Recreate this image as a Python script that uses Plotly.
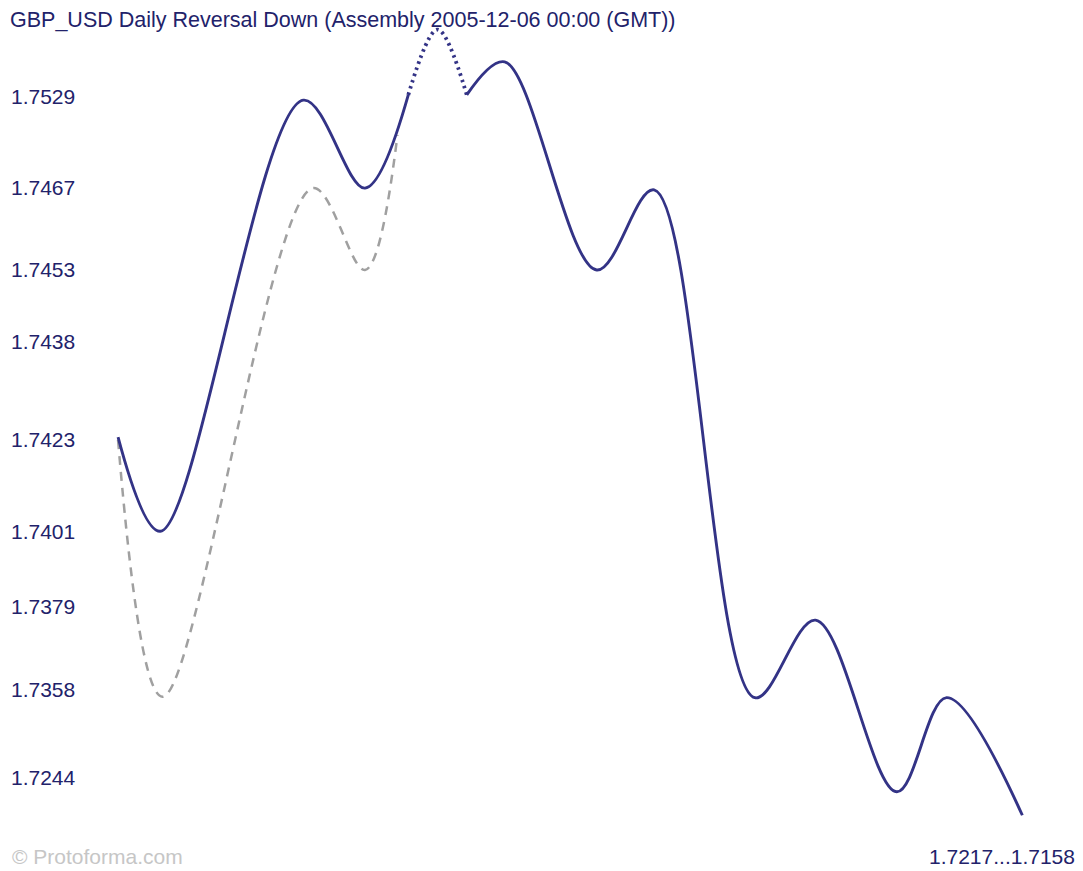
import plotly.graph_objects as go

# Chart-scale units: x = time position (0-100 of chart width), y = level (0-100 of chart height)
solid1_x = [10.9, 14.8, 28.0, 33.7, 37.7]
solid1_y = [49.8, 39.0, 88.5, 78.4, 89.1]

dotted_x = [37.7, 40.4, 43.1]
dotted_y = [89.1, 96.6, 89.1]

solid2_x = [43.1, 46.6, 55.1, 60.4, 69.7, 75.3, 82.8, 87.4, 94.4]
solid2_y = [89.1, 92.9, 69.0, 78.2, 19.9, 28.8, 9.1, 19.9, 6.4]

dashed_x = [10.9, 15.0, 28.9, 33.7, 36.7]
dashed_y = [49.5, 20.0, 78.4, 69.0, 84.5]

tick_levels = [88.9, 78.4, 69.0, 60.8, 49.5, 39.0, 30.4, 20.8, 10.7]
tick_labels = ["1.7529", "1.7467", "1.7453", "1.7438", "1.7423",
               "1.7401", "1.7379", "1.7358", "1.7244"]

title_text = "GBP_USD Daily Reversal Down (Assembly 2005-12-06 00:00 (GMT))"
range_text = "1.7217...1.7158"
credit_text = "© Protoforma.com"

NAVY = "#333386"
TEXT = "#22226a"
FONT = "Liberation Sans, Arial, sans-serif"

fig = go.Figure()
fig.add_trace(go.Scatter(x=dashed_x, y=dashed_y, mode="lines",
                         line=dict(color="#a0a0a0", width=2.5, dash="9px,7px",
                                   shape="spline", smoothing=1.0),
                         hoverinfo="skip", showlegend=False))
fig.add_trace(go.Scatter(x=solid1_x, y=solid1_y, mode="lines",
                         line=dict(color=NAVY, width=2.9, shape="spline", smoothing=1.0),
                         hoverinfo="skip", showlegend=False))
fig.add_trace(go.Scatter(x=dotted_x, y=dotted_y, mode="lines",
                         line=dict(color=NAVY, width=3.8, dash="2.5px,4px",
                                   shape="spline", smoothing=1.0),
                         hoverinfo="skip", showlegend=False))
fig.add_trace(go.Scatter(x=solid2_x, y=solid2_y, mode="lines",
                         line=dict(color=NAVY, width=2.9, shape="spline", smoothing=1.0),
                         hoverinfo="skip", showlegend=False))

fig.update_layout(
    width=1083, height=871,
    margin=dict(l=0, r=0, t=0, b=0),
    paper_bgcolor="white", plot_bgcolor="white",
    font=dict(family=FONT, color=TEXT, size=21),
    title=dict(text=title_text, xref="container", yref="container",
               x=10 / 1083, xanchor="left", y=1 - 19 / 871, yanchor="middle",
               font=dict(family=FONT, size=21.5, color=TEXT)),
    xaxis=dict(range=[0, 100], visible=False, fixedrange=True),
    yaxis=dict(range=[0, 100], showgrid=False, zeroline=False, showline=False,
               tickmode="array", tickvals=tick_levels, ticktext=tick_labels,
               ticks="", ticklabelposition="inside", ticklabelstandoff=8,
               tickfont=dict(family=FONT, size=21, color=TEXT), fixedrange=True),
    annotations=[
        dict(text=range_text, xref="paper", yref="paper", x=1 - 6 / 1083, y=1 - 856 / 871,
             xanchor="right", yanchor="middle", showarrow=False,
             font=dict(family=FONT, size=21, color=TEXT)),
        dict(text=credit_text, xref="paper", yref="paper", x=10 / 1083, y=1 - 856 / 871,
             xanchor="left", yanchor="middle", showarrow=False,
             font=dict(family=FONT, size=21, color="#c6c6c6")),
    ],
)

fig.write_html("out.html", config={"displayModeBar": False},
               post_script="document.body.style.margin='0';document.body.style.overflow='hidden';")
